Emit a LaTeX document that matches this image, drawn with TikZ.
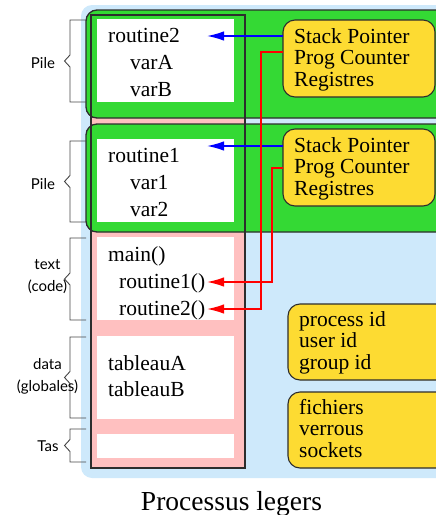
\documentclass[tikz,border=0pt]{standalone}
\usepackage{fontspec}
\setmainfont{Liberation Serif}
\newfontfamily\labelfont{Lato}
\usetikzlibrary{arrows.meta}

\definecolor{bgblue}{RGB}{206,233,251}
\definecolor{stackgreen}{RGB}{52,217,52}
\definecolor{mempink}{RGB}{255,192,192}
\definecolor{ctxyellow}{RGB}{253,219,50}
\definecolor{edgegray}{RGB}{45,45,45}
\definecolor{bracegray}{RGB}{70,70,70}

\tikzset{
  memtext/.style={anchor=base west, inner sep=0pt, font=\fontsize{21.5}{22}\selectfont},
  ctxtext/.style={anchor=north west, inner sep=0pt, align=left,
                  font=\fontsize{21.5}{21.6}\selectfont},
  sidelabel/.style={inner sep=0pt, align=center, font=\labelfont\fontsize{15}{22}\selectfont},
  ctxbox/.style={draw=edgegray, fill=ctxyellow, rounded corners=12pt, line width=1.1pt},
  segbox/.style={fill=white, draw=none},
  bracket/.style={draw=bracegray, line width=0.9pt},
  sparrow/.style={draw=blue, line width=1.6pt, -{Latex[length=17pt,width=9.5pt]}},
  pcarrow/.style={draw=red, line width=1.6pt, -{Latex[length=17pt,width=9.5pt]}},
}

% side bracket with a small point on its left: top y, bottom y
\newcommand\sidebrace[2]{%
  \draw[bracket] (86,#1) -- (70,#1) -- (70,{(#1+#2)/2-6}) -- (64.5,{(#1+#2)/2})
     -- (70,{(#1+#2)/2+6}) -- (70,#2) -- (86,#2);}

\begin{document}
\begin{tikzpicture}[x=1pt,y=-1pt]
\useasboundingbox (0,0) rectangle (436,515);

% process background
\fill[bgblue, rounded corners=11pt] (81,5) rectangle (480,478);

% memory column
\fill[mempink] (91,15) rectangle (245,468);

% thread stacks
\draw[fill=stackgreen, draw=edgegray, line width=1.3pt, rounded corners=11pt]
  (86,10) rectangle (480,118);
\draw[fill=stackgreen, draw=edgegray, line width=1.3pt, rounded corners=11pt]
  (86,124) rectangle (480,232);

% memory segments
\fill[segbox] (97,19) rectangle (234,102);
\fill[segbox] (97,139) rectangle (234,222);
\fill[segbox] (97,237) rectangle (234,320);
\fill[segbox] (97,336) rectangle (234,419);
\fill[segbox] (97,434) rectangle (234,458);

% outline of the memory column
\draw[edgegray, line width=1.1pt] (91,15) rectangle (245,468);

% segment contents
\node[memtext] (r2)   at (108,42.5) {routine2};
\node[memtext] (varA) at (130,69.5) {varA};
\node[memtext] (varB) at (130,96.5) {varB};
\node[memtext] (r1)   at (108,162) {routine1};
\node[memtext] (var1) at (130,189) {var1};
\node[memtext] (var2) at (130,216) {var2};
\node[memtext] (main)  at (108,261) {main()};
\node[memtext] (call1) at (119,288) {routine1()};
\node[memtext] (call2) at (119,315) {routine2()};
\node[memtext] (tabA) at (108,370) {tableauA};
\node[memtext] (tabB) at (108,396.5) {tableauB};

% thread contexts
\path[ctxbox] (283,20) rectangle (435,97);
\node[inner sep=0pt, minimum width=152pt, minimum height=77pt] (ctxA) at (359,58.5) {};
\node[ctxtext] (ctxAtxt) at (294,28) {Stack Pointer\\Prog Counter\\Registres};
\path[ctxbox] (283,129) rectangle (435,206);
\node[inner sep=0pt, minimum width=152pt, minimum height=77pt] (ctxB) at (359,167.5) {};
\node[ctxtext] (ctxBtxt) at (294,137) {Stack Pointer\\Prog Counter\\Registres};

% process-wide resources
\path[ctxbox] (288,304) rectangle (480,380);
\node[inner sep=0pt, minimum width=192pt, minimum height=76pt] (ids) at (384,342) {};
\node[ctxtext] (idstxt) at (299,311) {process id\\user id\\group id};
\path[ctxbox] (288,392) rectangle (480,468);
\node[inner sep=0pt, minimum width=192pt, minimum height=76pt] (files) at (384,430) {};
\node[ctxtext] (filestxt) at (299,399) {fichiers\\verrous\\sockets};

% side brackets and labels
\sidebrace{20}{102}
\node[sidelabel] (pile1) at (43,63) {Pile};
\sidebrace{141}{222}
\node[sidelabel] (pile2) at (43,184) {Pile};
\sidebrace{238}{320}
\node[sidelabel] (textseg) at (47.5,277) {text\\(code)};
\sidebrace{337}{418}
\node[sidelabel] (dataseg) at (47.5,376) {data\\(globales)};
\sidebrace{429}{462}
\node[sidelabel] (tasseg) at (48,446) {Tas};

% stack pointers
\coordinate (spA) at (207,36);
\coordinate (spB) at (207,146);
\draw[sparrow] (ctxA.west |- spA) -- (spA);
\draw[sparrow] (ctxB.west |- spB) -- (spB);

% program counters
\coordinate (pcA) at (283,52);
\coordinate (pcB) at (283,168);
\coordinate (call1tip) at (207,282);
\coordinate (call2tip) at (207,309);
\draw[pcarrow] (pcA) -- (261,52) |- (call2tip);
\draw[pcarrow] (pcB) -- (272,168) |- (call1tip);

% caption
\node[anchor=base, inner sep=0pt, font=\fontsize{27.5}{30}\selectfont] (title)
  at (231.5,510) {Processus legers};
\end{tikzpicture}
\end{document}
